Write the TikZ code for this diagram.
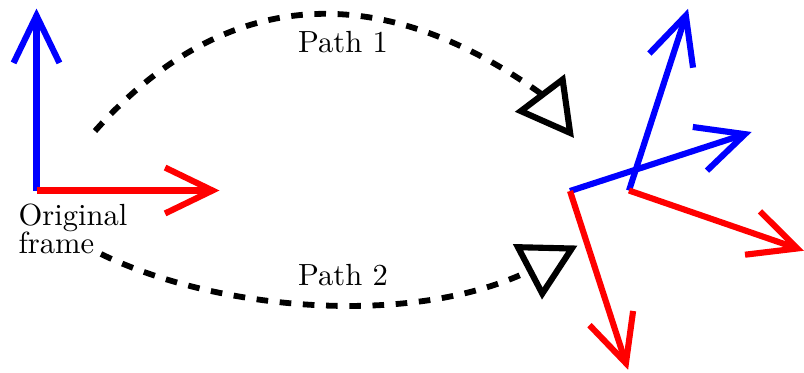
\documentclass[tikz,border=0pt]{standalone}
\usetikzlibrary{arrows.meta,calc}
\begin{document}
\begin{tikzpicture}[x=0.327pt,y=-0.327pt,
  axis/.style={line width=2pt,-{Straight Barb[length=15.5pt,width=15pt]}},
  xaxis/.style={axis,red},
  yaxis/.style={axis,blue},
  pathline/.style={line width=1.9pt,dash pattern=on 3.8pt off 3.8pt,
    -{Triangle[open,length=18.5pt,width=20pt,line width=2pt]}},
  lbl/.style={inner sep=0pt,font=\normalsize}]
\useasboundingbox (0,0) rectangle (804,372);
% original frame
\coordinate (o0) at (36.5,190.5);
\coordinate (y0) at ($(o0)+(-90:182)$);
\coordinate (x0) at ($(o0)+(0:183)$);
\draw[yaxis] (o0) -- (y0);
\draw[xaxis] (o0) -- (x0);
% frame A
\coordinate (oA) at (570,191);
\coordinate (yA) at ($(oA)+(-18:191)$);
\coordinate (xA) at ($(oA)+(72:188)$);
% frame B
\coordinate (oB) at (629,190.5);
\coordinate (yB) at ($(oB)+(-72:191)$);
\coordinate (xB) at ($(oB)+(19:185)$);
\draw[yaxis] (oB) -- (yB);
\draw[xaxis] (oB) -- (xB);
\draw[yaxis] (oA) -- (yA);
\draw[xaxis] (oA) -- (xA);
% label
\node[lbl,anchor=north west,align=left] (orig) at (18,203) {Original\\[-2.8pt]frame};
% paths
\coordinate (p1s) at (95,131);
\coordinate (p1b) at (540,93);
\coordinate (p1t) at (574,138);
\draw[pathline] (p1s) .. controls (225,-15) and (380,-21) .. (p1b) -- (p1t);
\coordinate (p2s) at (101,254);
\coordinate (p2b) at (527,272);
\coordinate (p2t) at (577.5,245.5);
\draw[pathline] (p2s) .. controls (218,311) and (410,327) .. (p2b) -- (p2t);
\node[lbl,anchor=base] (l1) at (343,52) {Path 1};
\node[lbl,anchor=base] (l2) at (343,285) {Path 2};
\end{tikzpicture}
\end{document}
